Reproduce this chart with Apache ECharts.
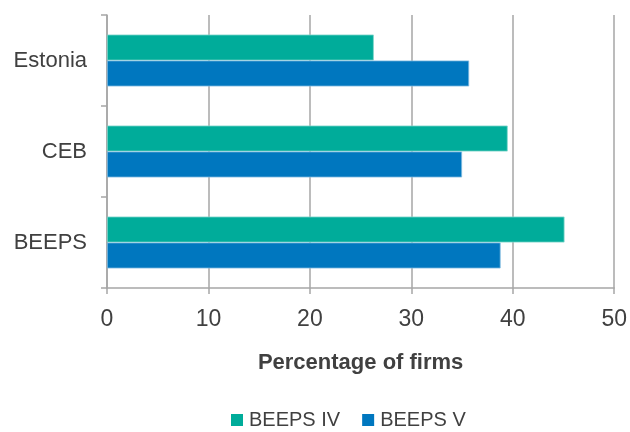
<!DOCTYPE html>
<html>
<head>
<meta charset="utf-8">
<script src="https://cdn.jsdelivr.net/npm/echarts@6/dist/echarts.min.js"></script>
<style>html,body{margin:0;padding:0;background:#fff;}#c{width:630px;height:432px;}</style>
</head>
<body>
<div id="c"></div>
<script>
const categories = ['Estonia', 'CEB', 'BEEPS'];
const beepsIV = [26.3, 39.5, 45.1];
const beepsV = [35.7, 35.0, 38.8];
const xTicks = [0, 10, 20, 30, 40, 50];

const chart = echarts.init(document.getElementById('c'));
const txt = '#404040';
const axisGray = '#a6a6a6';
chart.setOption({
  animation: false,
  textStyle: { fontFamily: 'Liberation Sans, Arial, sans-serif' },
  grid: { left: 107, right: 15, top: 15, bottom: 144 },
  legend: {
    data: ['BEEPS IV', 'BEEPS V'],
    left: 226, top: 405,
    itemWidth: 12, itemHeight: 12, itemGap: 22,
    icon: 'rect',
    itemStyle: { borderWidth: 0 },
    textStyle: { color: txt, fontSize: 20, padding: [0, 0, 0, 1] }
  },
  xAxis: {
    type: 'value', min: xTicks[0], max: xTicks[xTicks.length - 1], interval: 10,
    name: 'Percentage of firms', nameLocation: 'middle', nameGap: 64,
    nameTextStyle: { color: txt, fontSize: 22, fontWeight: 'bold' },
    axisLine: { show: true, lineStyle: { color: axisGray, width: 1.5 } },
    axisTick: { show: true, length: 6, lineStyle: { color: axisGray, width: 1.5 } },
    axisLabel: { color: txt, fontSize: 23, margin: 20 },
    splitLine: { show: true, lineStyle: { color: axisGray, width: 1.5 } }
  },
  yAxis: {
    type: 'category', data: categories, inverse: true,
    axisLine: { show: true, lineStyle: { color: axisGray, width: 1.5 } },
    axisTick: { show: true, length: 6, lineStyle: { color: axisGray, width: 1.5 } },
    axisLabel: { color: txt, fontSize: 22, margin: 20 }
  },
  series: [
    { name: 'BEEPS IV', type: 'bar', data: beepsIV, barGap: '0%', barCategoryGap: '43%',
      itemStyle: { color: '#00ac9a', borderColor: '#7fd5cc', borderWidth: 0.8 } },
    { name: 'BEEPS V', type: 'bar', data: beepsV, barGap: '0%', barCategoryGap: '43%',
      itemStyle: { color: '#0077bf', borderColor: '#7fbadf', borderWidth: 0.8 } }
  ]
});
</script>
</body>
</html>
